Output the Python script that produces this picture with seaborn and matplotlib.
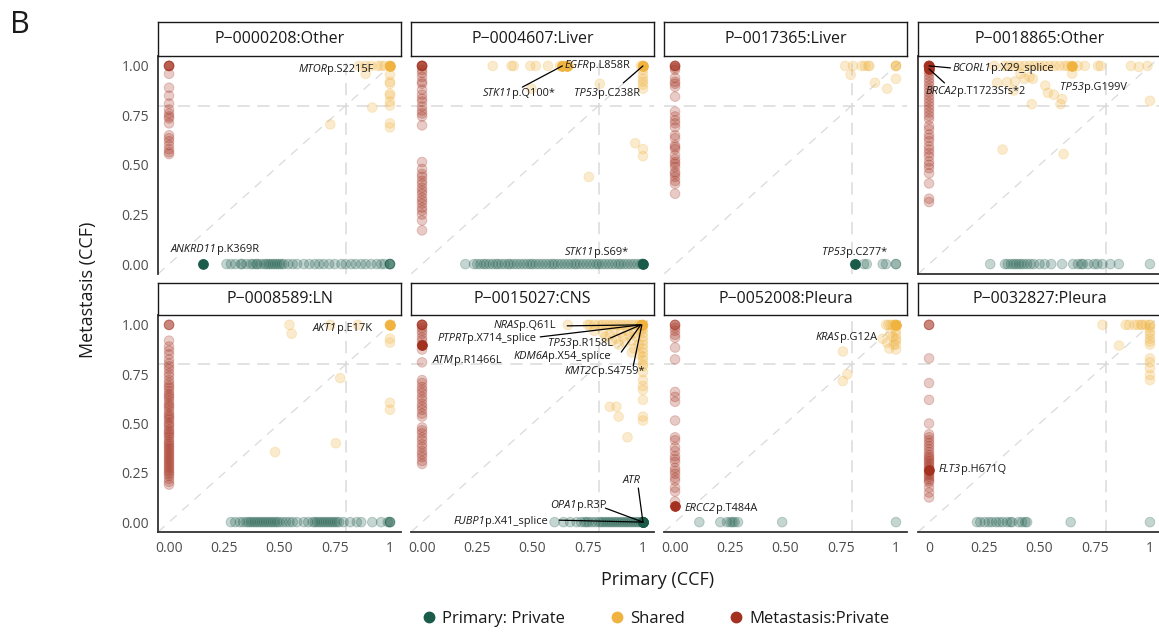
import matplotlib
matplotlib.use("Agg")
import matplotlib.pyplot as plt
from matplotlib.lines import Line2D
import pandas as pd
import seaborn as sns

sns.set_style("white")
plt.rcParams["font.family"] = ["Open Sans", "DejaVu Sans"]

# ---------------------------------------------------------------- data
patients = ["P\u22120000208:Other", "P\u22120004607:Liver", "P\u22120017365:Liver", "P\u22120018865:Other",
            "P\u22120008589:LN", "P\u22120015027:CNS", "P\u22120052008:Pleura", "P\u22120032827:Pleura"]
groups = ["Primary: Private", "Shared", "Metastasis:Private"]
tick_values = [0, 0.25, 0.5, 0.75, 1]
tick_labels_full = ["0.00", "0.25", "0.50", "0.75", "1.00"]
tick_labels_x = ["0.00", "0.25", "0.50", "0.75", "1"]
tick_labels_x_last = ["0", "0.25", "0.50", "0.75", "1"]

# P-0000208
p1_primary = [0.155, 0.26, 0.28, 0.30, 0.325, 0.33, 0.35, 0.37, 0.38, 0.395, 0.40, 0.415, 0.43, 0.44, 0.45,
              0.46, 0.47, 0.48, 0.49, 0.50, 0.51, 0.52, 0.54, 0.56, 0.58, 0.61, 0.635, 0.66, 0.68, 0.70,
              0.725, 0.75, 0.78, 0.80, 0.825, 0.845, 0.87, 0.89, 0.915, 0.94, 0.96, 0.975, 1.0, 1.0, 1.0, 1.0]
p1_met = [1.0, 1.0, 1.0, 1.0, 1.0, 0.96, 0.89, 0.85, 0.81, 0.78, 0.76, 0.745, 0.735, 0.71, 0.65, 0.635,
          0.62, 0.60, 0.58, 0.565, 0.555]
p1_shared_x = [0.86, 0.89, 0.915, 0.945, 0.96, 0.975, 1.0, 1.0, 1.0, 1.0, 1.0, 1.0, 1.0, 1.0, 1.0, 1.0,
               1.0, 1.0, 0.92, 0.73, 0.89]
p1_shared_y = [1.0, 1.0, 1.0, 1.0, 1.0, 1.0, 1.0, 1.0, 1.0, 0.955, 0.92, 0.91, 0.86, 0.85, 0.82, 0.80,
               0.71, 0.69, 0.79, 0.705, 0.96]

# P-0004607
p2_primary = [0.196, 0.235, 0.25, 0.265, 0.28, 0.29, 0.305, 0.32, 0.335, 0.345, 0.36, 0.375, 0.39, 0.40,
              0.415, 0.43, 0.445, 0.46, 0.475, 0.49, 0.50, 0.515, 0.53, 0.545, 0.56, 0.575, 0.59, 0.60,
              0.615, 0.63, 0.645, 0.66, 0.675, 0.69, 0.70, 0.715, 0.73, 0.745, 0.76, 0.775, 0.79, 0.80,
              0.815, 0.83, 0.845, 0.86, 0.875, 0.89, 0.90, 0.915, 0.93, 0.945, 0.96, 0.975, 0.99,
              1.0, 1.0, 1.0, 1.0, 1.0]
p2_met = [1.0, 1.0, 1.0, 1.0, 1.0, 1.0, 0.98, 0.965, 0.945, 0.92, 0.91, 0.88, 0.855, 0.835, 0.82, 0.795,
          0.775, 0.76, 0.745, 0.70, 0.515, 0.48, 0.455, 0.44, 0.42, 0.405, 0.385, 0.37, 0.355, 0.335,
          0.32, 0.305, 0.285, 0.27, 0.25, 0.22, 0.17]
p2_shared_x = [0.32, 0.405, 0.415, 0.49, 0.515, 0.57, 0.625, 0.635, 0.645, 0.655, 0.665, 1.0, 1.0, 1.0,
               0.99, 0.495, 0.805, 1.0, 1.0, 1.0, 1.0, 1.0, 1.0, 0.965, 1.0, 1.0, 0.755]
p2_shared_y = [1.0, 1.0, 1.0, 1.0, 1.0, 1.0, 1.0, 1.0, 1.0, 1.0, 1.0, 1.0, 1.0, 1.0,
               1.0, 0.885, 0.91, 0.98, 0.955, 0.935, 0.92, 0.905, 0.885, 0.61, 0.58, 0.545, 0.44]

# P-0017365
p3_primary = [0.815, 0.855, 0.868, 0.94, 0.955, 1.0, 1.0]
p3_met = [1.0, 1.0, 1.0, 1.0, 0.99, 0.98, 0.94, 0.92, 0.91, 0.895, 0.845, 0.77, 0.745, 0.725, 0.71, 0.69,
          0.65, 0.635, 0.60, 0.59, 0.58, 0.55, 0.53, 0.515, 0.505, 0.49, 0.465, 0.455, 0.44, 0.42,
          0.405, 0.355]
p3_shared_x = [0.77, 0.805, 0.845, 0.86, 0.875, 0.88, 1.0, 1.0, 1.0, 0.795, 0.905, 0.96, 1.0]
p3_shared_y = [1.0, 1.0, 1.0, 1.0, 1.0, 1.0, 1.0, 1.0, 1.0, 0.955, 0.915, 0.885, 0.935]

# P-0018865
p4_primary = [0.277, 0.344, 0.356, 0.371, 0.383, 0.394, 0.406, 0.417, 0.429, 0.444, 0.459, 0.474, 0.50,
              0.523, 0.553, 0.602, 0.652, 0.674, 0.689, 0.697, 0.72, 0.747, 0.762, 0.785, 0.821, 0.859, 1.0]
p4_met = [1.0, 1.0, 1.0, 1.0, 1.0, 1.0, 0.986, 0.969, 0.952, 0.935, 0.918, 0.901, 0.884, 0.867, 0.85,
          0.833, 0.816, 0.799, 0.782, 0.765, 0.748, 0.731, 0.697, 0.68, 0.654, 0.637, 0.62, 0.595, 0.578,
          0.56, 0.543, 0.518, 0.501, 0.484, 0.458, 0.407, 0.33, 0.313]
p4_shared_x = [0.295, 0.341, 0.364, 0.386, 0.409, 0.432, 0.455, 0.477, 0.50, 0.523, 0.545, 0.568, 0.591,
               0.614, 0.629, 0.644, 0.674, 0.705, 0.765, 0.777, 0.914, 0.95, 0.989,
               0.308, 0.353, 0.383, 0.389, 0.414, 0.432, 0.455, 0.47, 0.465, 0.526, 0.538, 0.565, 0.595,
               0.602, 0.648, 1.0, 0.333, 0.609]
p4_shared_y = [1.0, 1.0, 1.0, 1.0, 1.0, 1.0, 1.0, 1.0, 1.0, 1.0, 1.0, 1.0, 1.0,
               1.0, 1.0, 1.0, 1.0, 1.0, 1.0, 1.0, 1.0, 0.995, 1.0,
               0.915, 0.918, 0.876, 0.922, 0.961, 0.935, 0.944, 0.935, 0.807, 0.901, 0.864, 0.855, 0.807,
               0.833, 0.961, 0.824, 0.578, 0.555]

# P-0008589
p5_primary = [0.28, 0.30, 0.32, 0.335, 0.35, 0.36, 0.37, 0.38, 0.39, 0.40, 0.41, 0.42, 0.43, 0.44, 0.45,
              0.46, 0.47, 0.48, 0.49, 0.50, 0.515, 0.53, 0.545, 0.56, 0.58, 0.61, 0.63, 0.65, 0.66, 0.67,
              0.68, 0.69, 0.70, 0.71, 0.72, 0.73, 0.74, 0.75, 0.76, 0.77, 0.79, 0.82, 0.85, 0.87, 0.92,
              0.96, 0.99, 1.0, 1.0, 1.0]
p5_met = [1.0, 1.0, 1.0, 0.92, 0.89, 0.87, 0.85, 0.825, 0.805, 0.79, 0.775, 0.755, 0.74, 0.72, 0.705,
          0.69, 0.68, 0.665, 0.65, 0.64, 0.63, 0.615, 0.60, 0.59, 0.58, 0.565, 0.55, 0.54, 0.53, 0.52,
          0.505, 0.495, 0.485, 0.47, 0.46, 0.45, 0.44, 0.43, 0.415, 0.405, 0.395, 0.385, 0.375, 0.365,
          0.355, 0.345, 0.335, 0.325, 0.315, 0.305, 0.295, 0.285, 0.275, 0.265, 0.255, 0.245, 0.235,
          0.22, 0.205, 0.19]
p5_shared_x = [0.545, 0.555, 0.73, 0.855, 1.0, 1.0, 1.0, 1.0, 1.0, 0.775, 1.0, 1.0, 0.755, 0.48]
p5_shared_y = [1.0, 0.955, 1.0, 1.0, 1.0, 1.0, 1.0, 0.93, 0.91, 0.73, 0.605, 0.57, 0.40, 0.355]

# P-0015027
p6_primary = [0.60, 0.64, 0.67, 0.70, 0.72, 0.735, 0.745, 0.755, 0.77, 0.785, 0.80, 0.81, 0.82, 0.83, 0.84,
              0.85, 0.86, 0.87, 0.88, 0.89, 0.90, 0.91, 0.92, 0.93, 0.94, 0.95, 0.96, 0.97, 0.98, 0.99,
              1.0, 1.0, 1.0, 1.0]
p6_met = [1.0, 1.0, 1.0, 1.0, 1.0, 0.985, 0.97, 0.955, 0.935, 0.92, 0.90, 0.895, 0.875, 0.81, 0.72, 0.705,
          0.685, 0.67, 0.655, 0.635, 0.62, 0.60, 0.585, 0.57, 0.55, 0.535, 0.48, 0.465, 0.45, 0.43, 0.415,
          0.395, 0.38, 0.36, 0.345, 0.33, 0.31, 0.295]
p6_shared_x = [0.66, 0.75, 0.76, 0.78, 0.80, 0.815, 0.83, 0.845, 0.86, 0.875, 0.89, 0.905, 0.92, 0.935,
               0.95, 0.965, 0.98, 0.99, 1.0, 1.0, 1.0,
               0.78, 0.82, 0.85, 0.87, 0.88, 0.90, 0.91, 0.92, 0.93, 0.94, 0.95, 0.96, 0.97, 0.98, 0.99,
               0.86, 0.83, 0.96, 0.89, 0.95, 0.985,
               1.0, 1.0, 1.0, 1.0, 1.0, 1.0, 1.0, 1.0, 1.0, 1.0, 1.0, 1.0, 1.0, 1.0, 1.0, 1.0, 1.0, 1.0,
               0.85, 0.88, 0.89, 0.93]
p6_shared_y = [1.0, 1.0, 1.0, 1.0, 1.0, 1.0, 1.0, 1.0, 1.0, 1.0, 1.0, 1.0, 1.0, 1.0,
               1.0, 1.0, 1.0, 1.0, 1.0, 1.0, 1.0,
               0.97, 0.96, 0.95, 0.975, 0.93, 0.96, 0.94, 0.91, 0.97, 0.95, 0.92, 0.96, 0.94, 0.90, 0.97,
               0.92, 0.94, 0.88, 0.90, 0.86, 0.85,
               0.98, 0.96, 0.94, 0.92, 0.90, 0.88, 0.86, 0.84, 0.82, 0.80, 0.79, 0.76, 0.72, 0.69, 0.67,
               0.62, 0.535, 0.515,
               0.585, 0.585, 0.535, 0.43]

# P-0052008
p7_primary = [0.11, 0.205, 0.235, 0.25, 0.26, 0.27, 0.285, 0.485, 1.0]
p7_met = [1.0, 1.0, 1.0, 0.985, 0.97, 0.95, 0.935, 0.885, 0.825, 0.66, 0.635, 0.61, 0.515, 0.43, 0.415,
          0.38, 0.36, 0.335, 0.32, 0.305, 0.275, 0.26, 0.245, 0.225, 0.21, 0.175, 0.155, 0.105, 0.08]
p7_shared_x = [0.955, 0.965, 0.975, 0.985, 0.995, 1.0, 1.0, 1.0, 0.94, 0.96, 0.975, 0.99, 1.0, 1.0, 1.0,
               1.0, 1.0, 1.0, 0.985, 0.76, 0.78, 0.76, 0.97]
p7_shared_y = [1.0, 1.0, 1.0, 1.0, 1.0, 1.0, 1.0, 1.0, 0.93, 0.91, 0.96, 0.90, 0.97, 0.95, 0.93,
               0.92, 0.90, 0.875, 0.94, 0.865, 0.75, 0.715, 0.88]

# P-0032827
p8_primary = [0.217, 0.232, 0.252, 0.27, 0.285, 0.303, 0.318, 0.333, 0.353, 0.368, 0.376, 0.406, 0.421,
              0.436, 0.444, 0.641, 1.0]
p8_met = [1.0, 1.0, 1.0, 0.83, 0.705, 0.62, 0.50, 0.445, 0.43, 0.415, 0.40, 0.385, 0.37, 0.355, 0.34,
          0.33, 0.32, 0.31, 0.30, 0.29, 0.28, 0.27, 0.26, 0.25, 0.24, 0.23, 0.22, 0.21, 0.20, 0.175,
          0.15, 0.125]
p8_shared_x = [0.785, 0.89, 0.905, 0.93, 0.945, 0.96, 0.965, 0.98, 1.0, 1.0,
               1.0, 1.0, 1.0, 1.0, 1.0, 1.0, 1.0, 1.0, 1.0, 1.0, 1.0, 0.86]
p8_shared_y = [1.0, 1.0, 1.0, 1.0, 1.0, 1.0, 1.0, 1.0, 1.0, 1.0,
               0.985, 0.965, 0.95, 0.93, 0.915, 0.90, 0.83, 0.81, 0.78, 0.745, 0.72, 0.895]

# labelled driver mutations: (gene, protein change, group, primary CCF, metastasis CCF)
p1_drivers = [("MTOR", "p.S2215F", "Shared", 1.0, 1.0),
              ("ANKRD11", "p.K369R", "Primary: Private", 0.155, 0.0)]
p2_drivers = [("EGFR", "p.L858R", "Shared", 0.655, 1.0),
              ("STK11", "p.Q100*", "Shared", 0.635, 1.0),
              ("TP53", "p.C238R", "Shared", 1.0, 1.0),
              ("STK11", "p.S69*", "Primary: Private", 1.0, 0.0)]
p3_drivers = [("TP53", "p.C277*", "Primary: Private", 0.815, 0.0)]
p4_drivers = [("BCORL1", "p.X29_splice", "Metastasis:Private", 0.0, 1.0),
              ("BRCA2", "p.T1723Sfs*2", "Metastasis:Private", 0.0, 0.985),
              ("TP53", "p.G199V", "Shared", 0.645, 1.0)]
p5_drivers = [("AKT1", "p.E17K", "Shared", 1.0, 1.0)]
p6_drivers = [("NRAS", "p.Q61L", "Shared", 0.99, 1.0),
              ("PTPRT", "p.X714_splice", "Shared", 0.99, 1.0),
              ("TP53", "p.R158L", "Shared", 0.99, 1.0),
              ("KDM6A", "p.X54_splice", "Shared", 0.99, 1.0),
              ("KMT2C", "p.S4759*", "Shared", 0.995, 1.0),
              ("ATM", "p.R1466L", "Metastasis:Private", 0.0, 0.90),
              ("ATR", "", "Primary: Private", 1.0, 0.0),
              ("OPA1", "p.R3P", "Primary: Private", 1.0, 0.0),
              ("FUBP1", "p.X41_splice", "Primary: Private", 1.0, 0.0)]
p7_drivers = [("KRAS", "p.G12A", "Shared", 1.0, 1.0),
              ("ERCC2", "p.T484A", "Metastasis:Private", 0.0, 0.08)]
p8_drivers = [("FLT3", "p.H671Q", "Metastasis:Private", 0.0, 0.265)]

# label placement (text x, text y, leader-line start or None), same order as drivers
p1_label_pos = [(0.584, 0.98, None), (0.009, 0.076, None)]
p2_label_pos = [(0.644, 1.0, None), (0.273, 0.863, (0.454, 0.893)), (0.689, 0.863, (0.911, 0.914)),
                (0.644, 0.056, None)]
p3_label_pos = [(0.665, 0.061, None)]
p4_label_pos = [(0.106, 0.985, (0.097, 0.99)), (-0.017, 0.873, (0.07, 0.914)), (0.592, 0.893, None)]
p5_label_pos = [(0.652, 0.98, None)]
p6_label_pos = [(0.323, 0.995, (0.657, 0.995)), (0.069, 0.929, (0.535, 0.939)),
                (0.571, 0.908, (0.852, 0.933)), (0.413, 0.842, (0.902, 0.862)),
                (0.644, 0.765, (0.956, 0.791)), (0.047, 0.821, None),
                (0.906, 0.209, (0.979, 0.173)), (0.58, 0.082, (0.83, 0.071)), (0.142, 0.005, (0.621, 0.01))]
p7_label_pos = [(0.638, 0.934, None), (0.045, 0.071, None)]
p8_label_pos = [(0.042, 0.265, None)]

panel_primary = [p1_primary, p2_primary, p3_primary, p4_primary, p5_primary, p6_primary, p7_primary, p8_primary]
panel_met = [p1_met, p2_met, p3_met, p4_met, p5_met, p6_met, p7_met, p8_met]
panel_shared_x = [p1_shared_x, p2_shared_x, p3_shared_x, p4_shared_x, p5_shared_x, p6_shared_x,
                  p7_shared_x, p8_shared_x]
panel_shared_y = [p1_shared_y, p2_shared_y, p3_shared_y, p4_shared_y, p5_shared_y, p6_shared_y,
                  p7_shared_y, p8_shared_y]
panel_drivers = [p1_drivers, p2_drivers, p3_drivers, p4_drivers, p5_drivers, p6_drivers, p7_drivers, p8_drivers]
panel_label_pos = [p1_label_pos, p2_label_pos, p3_label_pos, p4_label_pos, p5_label_pos, p6_label_pos,
                   p7_label_pos, p8_label_pos]

records = []
for pid, prim, met, sx, sy in zip(patients, panel_primary, panel_met, panel_shared_x, panel_shared_y):
    records += [(pid, x, 0.0, "Primary: Private") for x in prim]
    records += [(pid, 0.0, y, "Metastasis:Private") for y in met]
    records += [(pid, x, y, "Shared") for x, y in zip(sx, sy)]
df = pd.DataFrame(records, columns=["patient", "primary", "metastasis", "group"])

# ---------------------------------------------------------------- style
palette = {"Primary: Private": "#1B5B49", "Shared": "#F0B33F", "Metastasis:Private": "#A4301F"}
AXIS_COL = "#333333"
TICK_TXT = "#4D4D4D"
REF_COL = "#DADADA"

FIG_W, FIG_H = 1159, 632
fig = plt.figure(figsize=(FIG_W / 100, FIG_H / 100), dpi=100)


def frac(left, top, width, height):
    return [left / FIG_W, 1 - (top + height) / FIG_H, width / FIG_W, height / FIG_H]


col_left = [158, 411, 664, 918]
panel_w = 243
strip_top = [22, 283]
strip_h = [34, 32]
panel_top = [56, 315]
panel_h = [218, 217]

LABEL_FS = 7.9

for i, pid in enumerate(patients):
    r, c = divmod(i, 4)
    ax = fig.add_axes(frac(col_left[c], panel_top[r], panel_w, panel_h[r]))
    sax = fig.add_axes(frac(col_left[c], strip_top[r], panel_w, strip_h[r]))
    sax.set_xticks([]); sax.set_yticks([])
    for sp in sax.spines.values():
        sp.set_visible(True); sp.set_color("#1A1A1A"); sp.set_linewidth(1.0)
    sax.text(0.5, 0.5, pid, ha="center", va="center", fontsize=11.5, color="#1A1A1A",
             transform=sax.transAxes)

    ax.set_xlim(-0.05, 1.05)
    ax.set_ylim(-0.05, 1.05)
    ax.set_facecolor("white")
    ax.axline((0, 0), slope=1, color=REF_COL, lw=0.9, ls=(0, (7, 6)), zorder=0)
    ax.axhline(0.8, color=REF_COL, lw=1.1, ls=(0, (8, 5)), zorder=0)
    ax.axvline(0.8, color=REF_COL, lw=1.1, ls=(0, (8, 5)), zorder=0)

    sub = df[df["patient"] == pid]
    sns.scatterplot(data=sub, x="primary", y="metastasis", hue="group", hue_order=groups,
                    palette=palette, s=48, alpha=0.25, edgecolor="face", linewidth=0.7,
                    legend=False, ax=ax, zorder=2)

    drivers = panel_drivers[i]
    for (gene, prot, grp, dx, dy), (tx, ty, lstart) in zip(drivers, panel_label_pos[i]):
        ax.scatter([dx], [dy], s=48, color=palette[grp], edgecolors=palette[grp], linewidths=0.7,
                   zorder=3)
        if lstart is not None:
            ax.plot([lstart[0], dx], [lstart[1], dy], color="black", lw=0.9, zorder=4)
        t1 = ax.text(tx, ty, gene, fontsize=LABEL_FS, style="italic", ha="left", va="center",
                     color="#1A1A1A", zorder=5)
        if prot:
            ax.annotate(prot, xy=(1, 0), xycoords=t1, xytext=(0.2, 0), textcoords="offset points",
                        ha="left", va="bottom", fontsize=LABEL_FS, color="#1A1A1A", zorder=5)

    ax.set_xlabel(""); ax.set_ylabel("")
    for sp in ax.spines.values():
        sp.set_visible(False)
    show_left = (c == 0) or i == 3
    show_bottom = (r == 1) or i == 3
    ax.spines["left"].set_visible(show_left)
    ax.spines["bottom"].set_visible(show_bottom)
    for side in ("left", "bottom"):
        ax.spines[side].set_color(AXIS_COL)
        ax.spines[side].set_linewidth(1.3)
    ax.tick_params(colors=AXIS_COL, labelcolor=TICK_TXT, labelsize=10, length=3.5, width=1, pad=3)

    if show_left:
        ax.set_yticks(tick_values)
        ax.set_yticklabels(tick_labels_full if c == 0 else [])
    else:
        ax.set_yticks([])
    if show_bottom:
        ax.set_xticks(tick_values)
        if r == 1:
            ax.set_xticklabels(tick_labels_x_last if c == 3 else tick_labels_x)
        else:
            ax.set_xticklabels([])
    else:
        ax.set_xticks([])

fig.text(88 / FIG_W, 1 - 290 / FIG_H, "Metastasis (CCF)", rotation=90, ha="center", va="center",
         fontsize=13, color="#1A1A1A")
fig.text(658 / FIG_W, 1 - 580 / FIG_H, "Primary (CCF)", ha="center", va="center",
         fontsize=13, color="#1A1A1A")
fig.text(10 / FIG_W, 1 - 25 / FIG_H, "B", ha="left", va="center", fontsize=22, color="#1A1A1A")

handles = [Line2D([], [], marker="o", ls="", markersize=7.5, color=palette[g]) for g in groups]
fig.legend(handles, groups, loc="center", bbox_to_anchor=(655 / FIG_W, 1 - 619 / FIG_H), ncol=3,
           frameon=False, fontsize=12, handletextpad=0.3, columnspacing=2.6, handlelength=1.0,
           labelcolor="#1A1A1A")

fig.savefig("out.png", dpi=100)
